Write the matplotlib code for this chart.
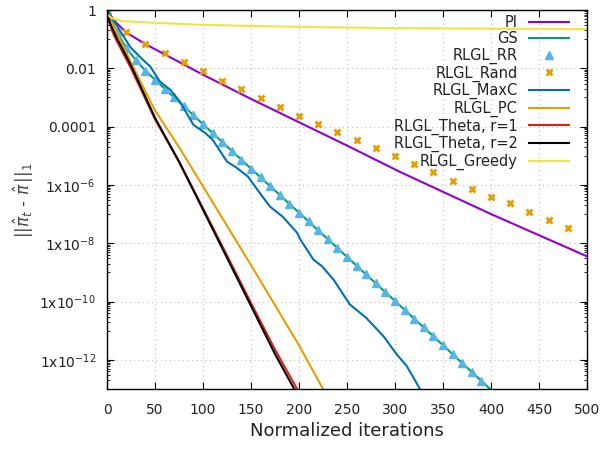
import numpy as np
import matplotlib
matplotlib.use("Agg")
import matplotlib.pyplot as plt
from matplotlib.ticker import FixedLocator, FixedFormatter

# data (log10 of ||pi_t - pi||_1)
pi_x = [0, 5, 10, 20, 40, 60, 100, 150, 200, 250, 305, 400, 500]
pi_log = [0, -0.25, -0.45, -0.77, -1.17, -1.52, -2.22, -3.05, -3.85, -4.65, -5.55, -7.0, -8.45]

gs_x = [0, 10, 20, 30, 40, 60, 80, 100, 150, 200, 250, 300, 350, 399]
gs_log = [0, -0.75, -1.3, -1.72, -2.08, -2.7, -3.3, -3.92, -5.44, -6.95, -8.47, -9.98, -11.5, -13.0]

rr_x = list(range(0, 400, 10))
rr_log = [0, -0.75, -1.3, -1.72, -2.08, -2.4, -2.7, -3.0, -3.3, -3.61,
          -3.92, -4.22, -4.52, -4.83, -5.13, -5.44, -5.74, -6.04, -6.35, -6.65,
          -6.95, -7.25, -7.56, -7.86, -8.16, -8.47, -8.77, -9.07, -9.38, -9.68,
          -9.98, -10.28, -10.59, -10.89, -11.19, -11.5, -11.8, -12.1, -12.41, -12.71]

rand_x = [20, 40, 60, 80, 100, 120, 140, 160, 180, 200, 220, 240,
          260, 280, 300, 320, 340, 360, 380, 400, 420, 440, 460, 480]
rand_log = [-0.75, -1.16, -1.47, -1.78, -2.09, -2.43, -2.71, -3.01, -3.32, -3.63, -3.9, -4.18,
            -4.45, -4.73, -5.0, -5.27, -5.55, -5.86, -6.13, -6.4, -6.61, -6.92, -7.19, -7.47]

maxc_x = [0, 13, 24, 34, 45, 55, 66, 76, 90, 102, 110, 125, 135, 147, 159, 170, 183,
          198, 201, 215, 224, 236, 253, 270, 288, 302, 312, 326]
maxc_log = [0, -0.68, -1.26, -1.6, -1.94, -2.45, -2.74, -3.15, -3.94, -4.21, -4.45, -5.2, -5.41,
            -5.72, -6.27, -6.75, -7.09, -7.64, -7.85, -8.56, -8.79, -9.25, -10.1, -10.56,
            -11.19, -11.82, -12.2, -13.0]

pc_x = [0, 3, 10, 25, 50, 75, 100, 150, 200, 225]
pc_log = [0, -0.3, -0.75, -1.8, -3.45, -4.7, -6.05, -8.75, -11.5, -13.0]

th1_x = [0, 5, 10, 25, 50, 75, 100, 125, 150, 175, 198]
th1_log = [0, -0.7, -1.05, -2.0, -3.75, -5.2, -6.8, -8.42, -10.05, -11.65, -13.0]

th2_x = [0, 3, 10, 25, 50, 75, 100, 125, 150, 175, 195]
th2_log = [0, -0.45, -0.95, -1.9, -3.7, -5.2, -6.85, -8.5, -10.15, -11.8, -13.0]

gr_x = [0, 5, 15, 50, 100, 200, 300, 400, 500]
gr_log = [-0.15, -0.28, -0.38, -0.44, -0.51, -0.58, -0.62, -0.64, -0.66]

ytick_vals = [1, 1e-2, 1e-4, 1e-6, 1e-8, 1e-10, 1e-12]
ytick_labels = ['1', '0.01', '0.0001', r'1x10$^{\mathregular{-6}}$', r'1x10$^{\mathregular{-8}}$',
                r'1x10$^{\mathregular{-10}}$', r'1x10$^{\mathregular{-12}}$']

plt.rcParams['font.family'] = 'DejaVu Sans'
txt = '#222222'

fig = plt.figure(figsize=(6.11, 4.49), dpi=100)
ax = fig.add_axes([107/611, 1-389/449, 480/611, 379/449])

def v(a):
    return 10.0 ** np.array(a)

lw = 1.5
ax.plot(pi_x, v(pi_log), color='#9400d3', lw=lw, label='PI')
ax.plot(gs_x, v(gs_log), color='#009e73', lw=lw, label='GS')
ax.plot(rr_x, v(rr_log), ls='none', marker='^', ms=6, color='#56b4e9', label='RLGL_RR')
ax.plot(rand_x, v(rand_log), ls='none', marker='x', ms=5, mew=2, color='#e69f00', label='RLGL_Rand')
ax.plot(maxc_x, v(maxc_log), color='#0072b2', lw=lw, label='RLGL_MaxC')
ax.plot(pc_x, v(pc_log), color='#e69f00', lw=lw, label='RLGL_PC')
ax.plot(th1_x, v(th1_log), color='#e51e10', lw=lw, label='RLGL_Theta, r=1')
ax.plot(th2_x, v(th2_log), color='black', lw=lw, label='RLGL_Theta, r=2')
ax.plot(gr_x, v(gr_log), color='#f0e442', lw=lw, label='RLGL_Greedy')

ax.set_yscale('log')
ax.set_xlim(0, 500)
ax.set_ylim(1e-13, 1)
ax.set_xticks(range(0, 501, 50))
ax.yaxis.set_major_locator(FixedLocator(ytick_vals))
ax.yaxis.set_major_formatter(FixedFormatter(ytick_labels))
minors = [m * 10.0 ** e for e in range(-13, 0, 2) for m in range(1, 10)]
ax.yaxis.set_minor_locator(FixedLocator(minors))
ax.yaxis.set_minor_formatter(FixedFormatter([''] * len(minors)))

ax.tick_params(which='both', direction='in', top=True, right=True, colors='black',
               labelcolor=txt, labelsize=10)
ax.tick_params(axis='x', which='major', length=5, pad=10)
ax.tick_params(axis='y', which='major', length=5, pad=8)
ax.tick_params(which='minor', length=2.5)
ax.grid(True, which='major', ls=(0, (1, 3)), color='#c0c0c0', lw=0.8)
for s in ax.spines.values():
    s.set_linewidth(1.0)

ax.set_xlabel('Normalized iterations', fontsize=13, color=txt, labelpad=4)
fig.text(24/611, 1-200/449, r'$||\hat{\pi}_t$ - $\hat{\pi}\,||_1$', rotation=90,
         ha='center', va='center', fontsize=12, color='#444444')

ax.legend(loc='upper right', bbox_to_anchor=(569/611, 1-15/449), bbox_transform=fig.transFigure,
          frameon=False, markerfirst=False, fontsize=10.5, labelspacing=0.1,
          handlelength=2.75, handletextpad=0.75, borderpad=0, borderaxespad=0,
          labelcolor=txt)

fig.savefig('out.png', dpi=100)
